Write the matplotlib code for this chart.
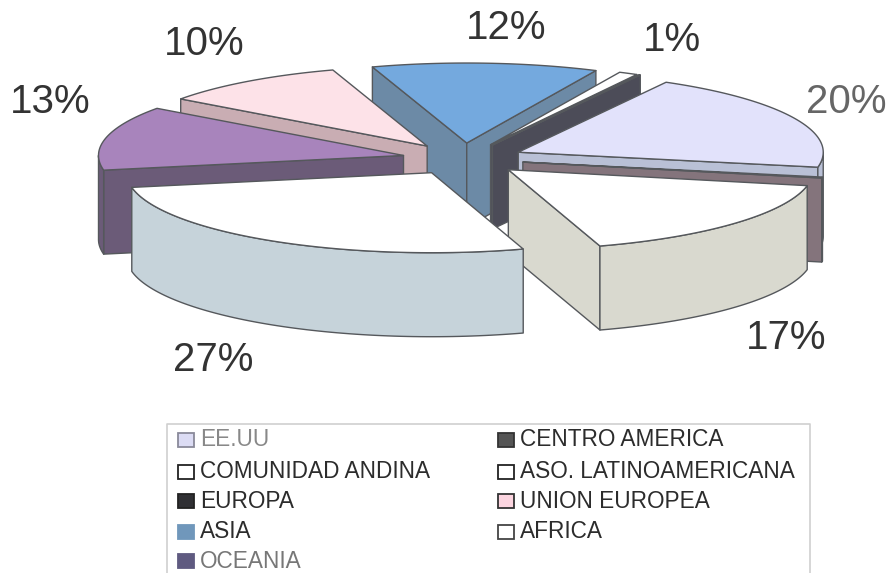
import numpy as np
import matplotlib
matplotlib.use("Agg")
import matplotlib.pyplot as plt
from matplotlib.patches import Rectangle

plt.rcParams['font.family'] = ['Liberation Sans', 'DejaVu Sans']

regions = ["EE.UU", "CENTRO AMERICA", "COMUNIDAD ANDINA", "ASO. LATINOAMERICANA", "EUROPA",
           "UNION EUROPEA", "ASIA", "AFRICA", "OCEANIA"]
shares = [20, 0.2, 17, 27, 13, 10, 12, 1, 0.1]
pct_labels = ["20%", "", "17%", "27%", "13%", "10%", "12%", "1%", ""]

top_colors = ["#e2e2fb", "#9c8c94", "#ffffff", "#ffffff", "#a884bc", "#fde2e8", "#74a9de", "#ffffff", "#55555f"]
side_colors = ["#b9c0d6", "#84747c", "#d9d9cf", "#c6d3da", "#6b5b78", "#c9adb3", "#6c8aa6", "#4f4f5a", "#4c4c58"]
legend_colors = ["#dcdcf4", "#555555", "#ffffff", "#ffffff", "#303034", "#fcd5e0", "#7097bb", "#ffffff", "#5f5a80"]
legend_edges = ["#8a8a9a", "#333333", "#222222", "#222222", "#222222", "#333333", "#7097bb", "#444444", "#5f5a80"]
legend_text = ["#888888", "#2c2c2c", "#2c2c2c", "#2c2c2c", "#2c2c2c", "#2c2c2c", "#2c2c2c", "#2c2c2c", "#777777"]

# pie layout in pixels
cx, cy = 463, 159
rx, ry = 305, 80
depth = 84
explode = 0.2
start = -61

label_pos = [(846, 102), None, (786, 338), (213, 360), (50, 102), (204, 44), (506, 28), (672, 40), None]


def arc(x0, y0, t1, t2):
    t = np.radians(np.linspace(t1, t2, 80))
    return x0 + rx * np.cos(t), y0 + ry * np.sin(t)


def face(ax, xs, ys, color):
    ax.fill(xs, ys, facecolor=color, edgecolor="#55585c", linewidth=1.0, joinstyle="round")


fig = plt.figure(figsize=(8.91, 5.73), dpi=100)
ax = fig.add_axes([0, 0, 1, 1])
ax.set_xlim(0, 891)
ax.set_ylim(573, 0)
ax.axis("off")

total = sum(shares)
edges = start + np.concatenate([[0], np.cumsum(shares)]) * 360 / total
mids = (edges[:-1] + edges[1:]) / 2

# back slices first
for i in np.argsort(np.sin(np.radians(mids))):
    t1, t2 = edges[i], edges[i + 1]
    m = np.radians(mids[i])
    px = cx + explode * rx * np.cos(m)
    py = cy + explode * ry * np.sin(m)

    for t, visible in ((t1, np.cos(np.radians(t1)) < 0), (t2, np.cos(np.radians(t2)) > 0)):
        if visible:
            ex = px + rx * np.cos(np.radians(t))
            ey = py + ry * np.sin(np.radians(t))
            face(ax, [px, ex, ex, px], [py, ey, ey + depth, py + depth], side_colors[i])

    # outer wall, only the part that faces the viewer
    for lo, hi in ((0, 180), (360, 540), (-360, -180)):
        a, b = max(t1, lo), min(t2, hi)
        if a < b:
            xs, ys = arc(px, py, a, b)
            face(ax, np.concatenate([xs, xs[::-1]]), np.concatenate([ys, ys[::-1] + depth]), side_colors[i])

    xs, ys = arc(px, py, t1, t2)
    face(ax, np.concatenate([[px], xs]), np.concatenate([[py], ys]), top_colors[i])

for lab, pos in zip(pct_labels, label_pos):
    if pos:
        ax.text(pos[0], pos[1], lab, fontsize=29, color="#666666" if lab == "20%" else "#333333",
                ha="center", va="center")

# legend box runs off the bottom of the scan
ax.plot([167, 167, 810, 810], [573, 424, 424, 573], color="#cfcfcf", linewidth=1.2)
row_y = [440, 472, 501, 532, 561]
for i, name in enumerate(regions):
    col, row = i % 2, i // 2
    x0 = 186 if col == 0 else 506
    y0 = row_y[row]
    ax.add_patch(Rectangle((x0 - 8, y0 - 7), 16, 14, facecolor=legend_colors[i], edgecolor=legend_edges[i],
                           linewidth=1.3))
    ax.text(x0 + 14, y0, name, fontsize=16.3, color=legend_text[i], ha="left", va="center")

fig.savefig("out.png", dpi=100)
